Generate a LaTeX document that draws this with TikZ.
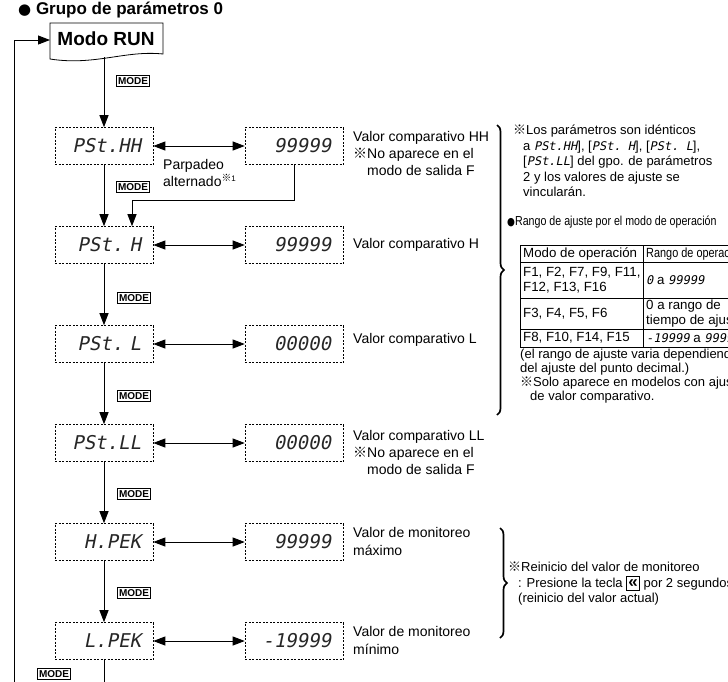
\documentclass[tikz,border=0pt]{standalone}
\usepackage{fontspec}
\setmainfont{Liberation Sans}
\newfontfamily\cjk{Noto Sans CJK JP}
\newfontfamily\dvs{DejaVu Sans}
\newfontfamily\segfont{DejaVu Sans Mono}[FakeSlant=0.2]
\usepackage{tikz}
\usetikzlibrary{arrows.meta,decorations.pathreplacing,calc}
\newcommand{\kome}{{\cjk ※}}
\newcommand{\seg}[1]{{\segfont\fontsize{12}{14}\selectfont #1}}
\newcommand{\narrow}[1]{\scalebox{0.82}[1]{#1}}
\newcommand{\backkey}{{\setlength\fboxsep{0.8pt}\setlength\fboxrule{1pt}%
  \fbox{\rule[-1.5pt]{0pt}{11.5pt}\makebox[10pt]{\bfseries\fontsize{17}{17}\selectfont «}}}}

\tikzset{
  disp/.style={draw, dash pattern=on 2pt off 1.5pt, line width=0.6pt,
    minimum width=98pt, minimum height=37pt, text width=74pt, align=right,
    inner xsep=12pt, text=black!85, font=\segfont\fontsize{19}{22}\selectfont},
  modekey/.style={draw, line width=0.7pt, inner xsep=1.5pt, inner ysep=1.8pt,
    font=\bfseries\fontsize{10}{11}\selectfont},
  wire/.style={line width=0.9pt},
  flow/.style={wire, -{Triangle[length=12pt,width=9pt]}},
  swap/.style={wire, {Triangle[length=12pt,width=9pt]}-{Triangle[length=12pt,width=9pt]}},
  lbl/.style={anchor=north west, align=left, inner sep=0pt, font=\fontsize{14}{17}\selectfont},
  note/.style={anchor=north west, align=left, inner sep=0pt, font=\fontsize{13}{15.5}\selectfont},
  cell/.style={anchor=west, align=left, inner sep=0pt, font=\fontsize{13.3}{15.5}\selectfont},
  bigbrace/.style={line width=1.7pt, decorate, decoration={brace, amplitude=7pt}},
}

\begin{document}
\begin{tikzpicture}[x=1pt,y=-1pt]
\path[use as bounding box, clip] (0,0) rectangle (728,681);

% title
\node[anchor=west, inner sep=0pt, font=\bfseries\fontsize{17}{20}\selectfont] (title) at (18,10)
  {{\dvs\fontsize{15}{17}\selectfont ●} Grupo de parámetros 0};

% Modo RUN
\draw[line width=0.8pt] (50,23) -- (163,23) -- (163,54) .. controls (125,50) and (95,66) .. (50,59) -- cycle;
\node[inner sep=0pt, font=\bfseries\fontsize{19}{22}\selectfont] (run) at (106,39) {Modo RUN};
\coordinate (runin) at (50,40);
\coordinate (runout) at (104,57);

% displays, left column
\node[disp] (psthh) at (104,146) {PSt.HH};
\node[disp] (psth)  at (104,245) {PSt.\ H};
\node[disp] (pstl)  at (104,344) {PSt.\ L};
\node[disp] (pstll) at (104,443) {PSt.LL};
\node[disp] (hpek)  at (104,542) {H.PEK};
\node[disp] (lpek)  at (104,641) {L.PEK};

% displays, right column
\node[disp] (vhh) at (294,146) {99999};
\node[disp] (vh)  at (294,245) {99999};
\node[disp] (vl)  at (294,344) {00000};
\node[disp] (vll) at (294,443) {00000};
\node[disp] (vmx) at (294,542) {99999};
\node[disp] (vmn) at (294,641) {-19999};

% MODE keys
\node[modekey] (k0) at (133,81) {MODE};
\node[modekey] (k1) at (133,187) {MODE};
\node[modekey] (k2) at (134,298) {MODE};
\node[modekey] (k3) at (134,396) {MODE};
\node[modekey] (k4) at (134,494) {MODE};
\node[modekey] (k5) at (134,593) {MODE};
\node[modekey] (k6) at (54,674) {MODE};

% flow
\draw[flow] (runout) -- (psthh);
\draw[flow] (psthh) -- (psth);
\draw[flow] (psth) -- (pstl);
\draw[flow] (pstl) -- (pstll);
\draw[flow] (pstll) -- (hpek);
\draw[flow] (hpek) -- (lpek);
\coordinate (blink) at (132,200);
\draw[flow] (vhh.south) |- (blink) -- (blink |- psth.north);
\coordinate (lbot) at (104,695);
\draw[wire] (lpek) -- (lbot);
\coordinate (rbot) at (14,695);
\draw[flow] (rbot) |- (runin);

\draw[swap] (psthh) -- (vhh);
\draw[swap] (psth) -- (vh);
\draw[swap] (pstl) -- (vl);
\draw[swap] (pstll) -- (vll);
\draw[swap] (hpek) -- (vmx);
\draw[swap] (lpek) -- (vmn);

\node[lbl] (blinktxt) at (163,159) {Parpadeo\\alternado\textsuperscript{\kome\fontsize{8}{9}\selectfont 1}};

% labels
\node[lbl] (lhh) at (353,131) {Valor comparativo HH\\\kome No aparece en el\\\hspace{14pt}modo de salida F};
\node[lbl, anchor=west] (lh) at (353,245) {Valor comparativo H};
\node[lbl, anchor=west] (ll) at (353,340) {Valor comparativo L};
\node[lbl] (lll) at (353,430) {Valor comparativo LL\\\kome No aparece en el\\\hspace{14pt}modo de salida F};
\node[lbl, font=\fontsize{14}{18.5}\selectfont] (lmx) at (353,527) {Valor de monitoreo\\máximo};
\node[lbl, font=\fontsize{14}{18.5}\selectfont] (lmn) at (353,626) {Valor de monitoreo\\mínimo};

% braces
\draw[bigbrace] (497,125) -- (497,415);
\draw[bigbrace] (500,528) -- (500,638);

% notes
\node[note] (n1) at (513,125) {\kome Los parámetros son idénticos\\
  \hspace{10pt}a \seg{PSt.HH}], [\seg{PSt.\ H}], [\seg{PSt.\ L}],\\
  \hspace{10pt}[\seg{PSt.LL}] del gpo. de parámetros\\
  \hspace{10pt}2 y los valores de ajuste se\\
  \hspace{10pt}vincularán.};
\node[cell, font=\fontsize{13}{15}\selectfont] (n2) at (507,222)
  {\narrow{{\dvs\fontsize{11}{12}\selectfont ●}Rango de ajuste por el modo de operación}};

% table
\draw[line width=0.6pt] (520,245) rectangle (760,347);
\draw[line width=0.6pt] (520,262) -- (760,262);
\draw[line width=0.6pt] (520,298) -- (760,298);
\draw[line width=0.6pt] (520,329) -- (760,329);
\draw[line width=0.6pt] (643,245) -- (643,347);
\node[cell] (h1) at (523,253.5) {Modo de operación};
\node[cell] (h2) at (646,253.5) {\narrow{Rango de operación}};
\node[cell] (a1) at (523,280) {F1, F2, F7, F9, F11,\\F12, F13, F16};
\node[cell] (b1) at (646,280) {\seg{0} a \seg{99999}};
\node[cell] (a2) at (523,313.5) {F3, F4, F5, F6};
\node[cell] (b2) at (646,313.5) {0 a rango de\\tiempo de ajuste};
\node[cell] (a3) at (523,338) {F8, F10, F14, F15};
\node[cell] (b3) at (646,338) {\seg{-19999} a \seg{99999}};

\node[note, font=\fontsize{13}{13.8}\selectfont] (n3) at (520,349) {(el rango de ajuste varia dependiendo\\
  del ajuste del punto decimal.)\\
  \kome Solo aparece en modelos con ajuste\\
  \hspace{10pt}de valor comparativo.};

\node[note] (n4) at (508,562) {\kome Reinicio del valor de monitoreo\\
  \hspace{10pt}: Presione la tecla \backkey\ por 2 segundos\\
  \hspace{10pt}(reinicio del valor actual)};
\end{tikzpicture}
\end{document}
